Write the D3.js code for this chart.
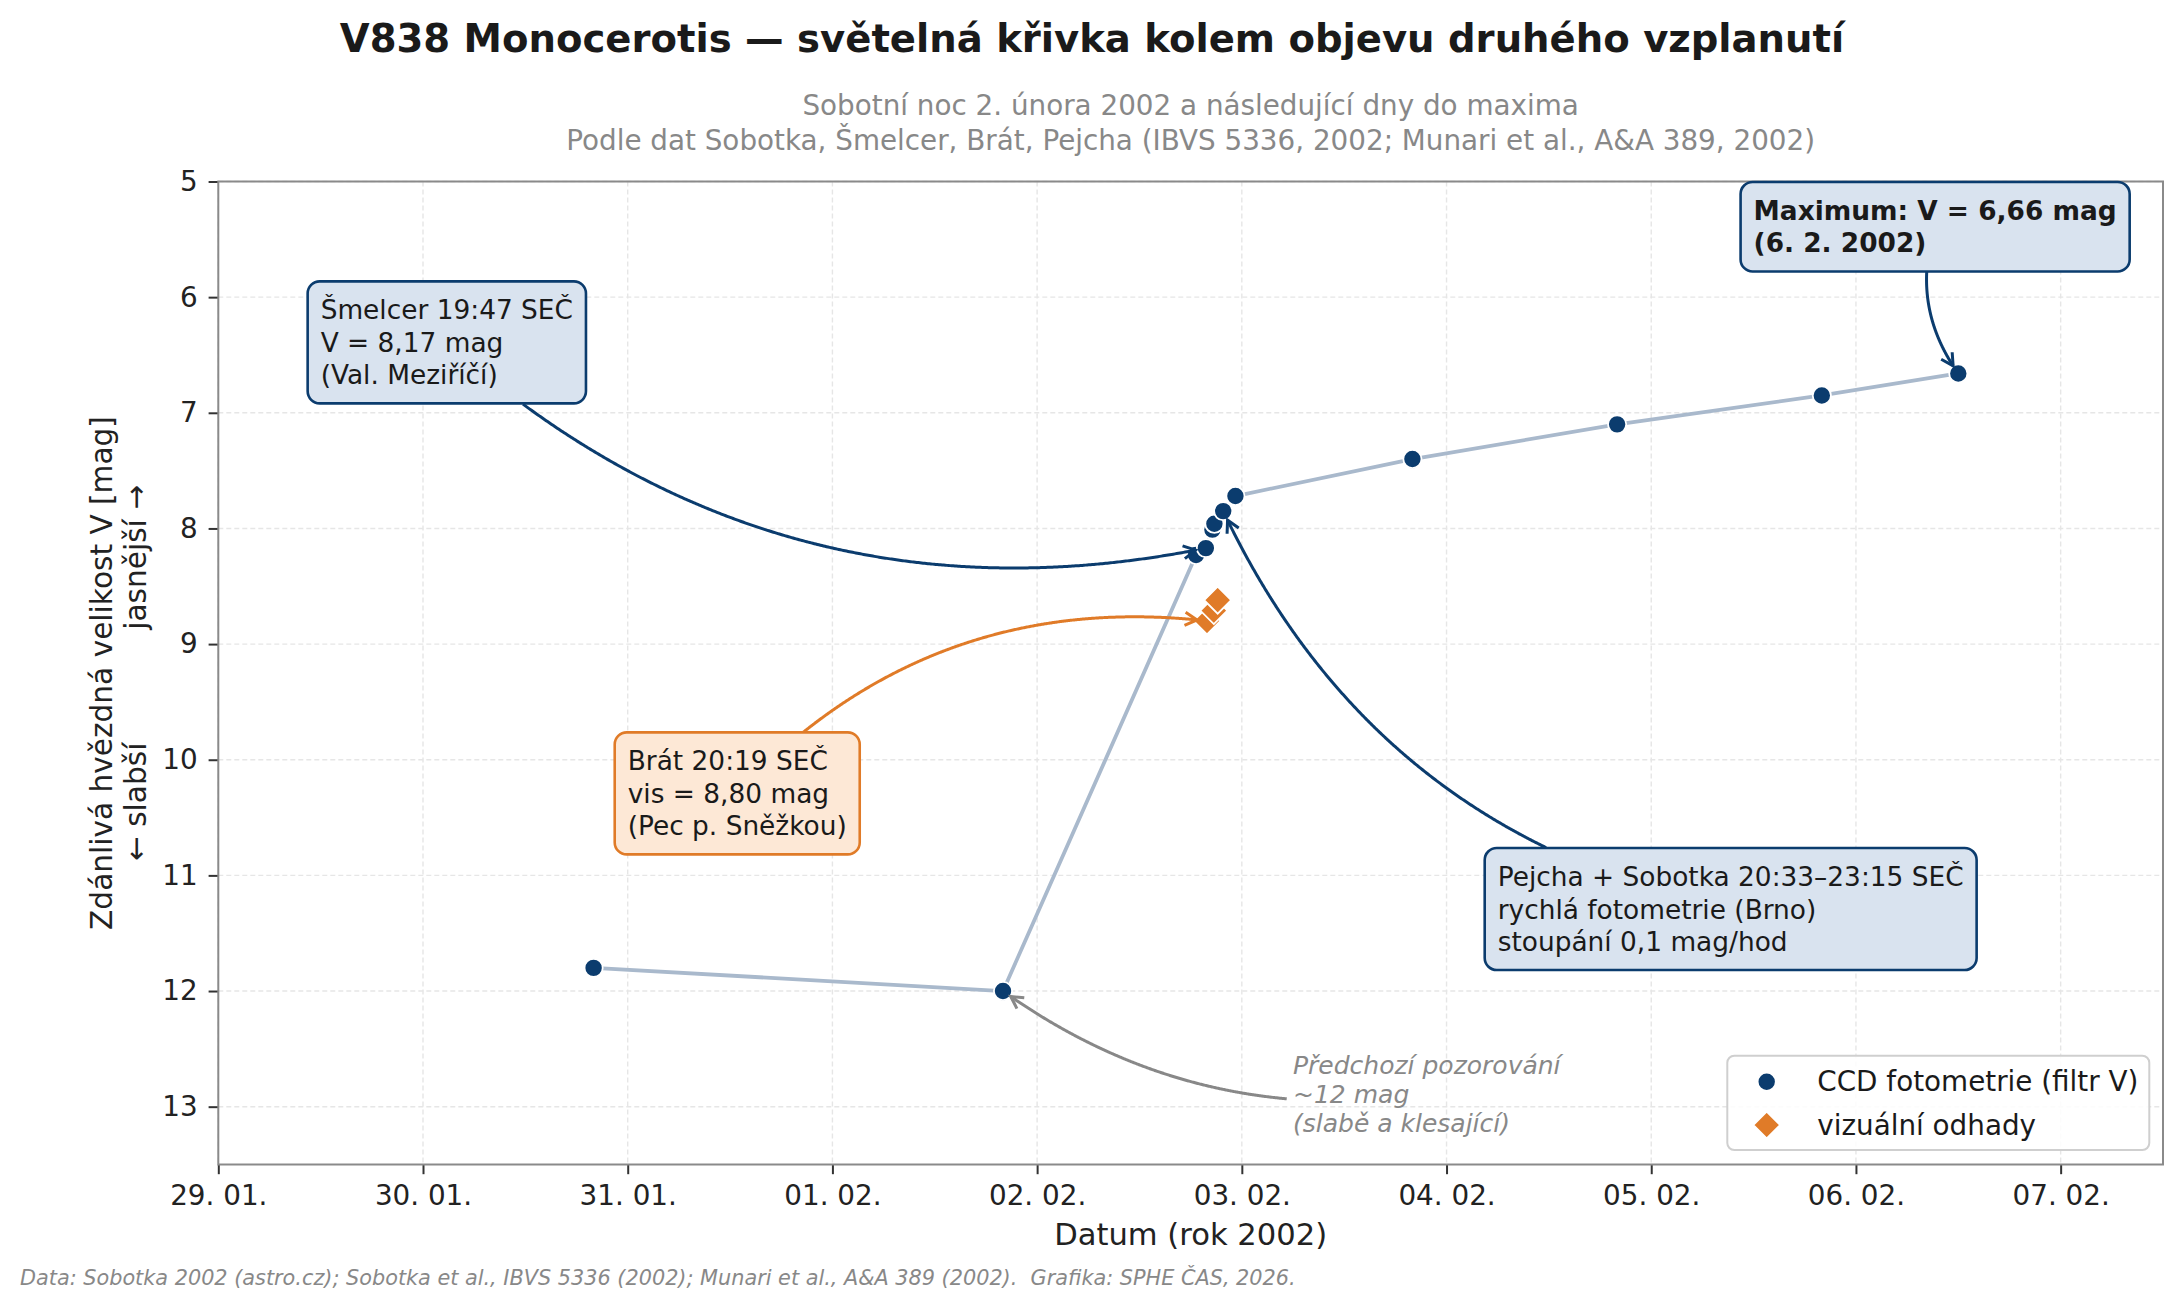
<!DOCTYPE html>
<html>
<head>
<meta charset="utf-8">
<script src="https://cdn.jsdelivr.net/npm/d3@7"></script>
<style>
  body { margin: 0; background: #fff; }
  text { font-family: "DejaVu Sans", sans-serif; }
</style>
</head>
<body>
<svg id="chart" width="2182" height="1311"></svg>
<script>
// ---- data (times in SEČ) ----
const ccdTimes = ["2002-01-30T20:00", "2002-02-01T20:00", "2002-02-02T18:38", "2002-02-02T19:47",
                  "2002-02-02T20:33", "2002-02-02T20:47", "2002-02-02T21:49", "2002-02-02T23:15",
                  "2002-02-03T20:00", "2002-02-04T20:00", "2002-02-05T20:00", "2002-02-06T12:00"];
const ccdMag = [11.80, 12.00, 8.23, 8.17, 8.01, 7.96, 7.85, 7.72, 7.40, 7.10, 6.85, 6.66];

const visTimes = ["2002-02-02T19:55", "2002-02-02T20:43", "2002-02-02T21:10"];
const visMag = [8.80, 8.71, 8.62];

const xStart = "2002-01-29T00:00", xEnd = "2002-02-07T12:00";
const magTicks = [5, 6, 7, 8, 9, 10, 11, 12, 13];

// annotations: text lines, anchor (left, vertical centre), target point, curvature
const notes = [
  { lines: ["Šmelcer 19:47 SEČ", "V = 8,17 mag", "(Val. Meziříčí)"], at: "2002-01-29T12:00", mag: 6.4,
    series: "ccd", idx: 3, rad: 0.25, kind: "blue" },
  { lines: ["Maximum: V = 6,66 mag", "(6. 2. 2002)"], at: "2002-02-05T12:00", mag: 5.4,
    series: "ccd", idx: 11, rad: 0.25, kind: "blue", bold: true },
  { lines: ["Brát 20:19 SEČ", "vis = 8,80 mag", "(Pec p. Sněžkou)"], at: "2002-01-31T00:00", mag: 10.3,
    series: "vis", idx: 0, rad: -0.25, kind: "orange" },
  { lines: ["Pejcha + Sobotka 20:33–23:15 SEČ", "rychlá fotometrie (Brno)", "stoupání 0,1 mag/hod"],
    at: "2002-02-04T06:00", mag: 11.3, series: "ccd", idx: 6, rad: -0.25, kind: "blue" },
  { lines: ["Předchozí pozorování", "~12 mag", "(slabě a klesající)"], at: "2002-02-03T06:00", mag: 12.9,
    series: "ccd", idx: 1, rad: -0.2, kind: "plain" }
];

const navy = "#0b3c6e", orange = "#e07b28", lineCol = "#a9b9cc";

const svg = d3.select("#chart");
const m = { left: 218.3, right: 2163, top: 181.5, bottom: 1164.5 };
const parse = d3.timeParse("%Y-%m-%dT%H:%M");

const ccd = ccdTimes.map((t, i) => ({ t: parse(t), m: ccdMag[i] }));
const vis = visTimes.map((t, i) => ({ t: parse(t), m: visMag[i] }));

const x = d3.scaleTime().domain([parse(xStart), parse(xEnd)]).range([m.left, m.right]);
const y = d3.scaleLinear().domain([5, 13.5]).range([m.top, m.bottom]);
const dayTicks = d3.timeDay.range(parse(xStart), d3.timeDay.offset(parse(xEnd), 1));

// grid
const grid = svg.append("g").attr("stroke", "#e6e6e6").attr("stroke-width", 1.4).attr("stroke-dasharray", "5,3");
grid.selectAll("line.v").data(dayTicks).join("line")
  .attr("x1", d => x(d)).attr("x2", d => x(d)).attr("y1", m.top).attr("y2", m.bottom);
grid.selectAll("line.h").data(magTicks).join("line")
  .attr("y1", d => y(d)).attr("y2", d => y(d)).attr("x1", m.left).attr("x2", m.right);

// axes
const gx = svg.append("g").attr("transform", `translate(0,${m.bottom})`)
  .call(d3.axisBottom(x).tickValues(dayTicks).tickFormat(d3.timeFormat("%d. %m.")).tickSize(9.7).tickPadding(11));
const gy = svg.append("g").attr("transform", `translate(${m.left},0)`)
  .call(d3.axisLeft(y).tickValues(magTicks).tickFormat(d3.format("d")).tickSize(9.7).tickPadding(11));
[gx, gy].forEach(g => {
  g.select(".domain").remove();
  g.attr("font-family", "DejaVu Sans").attr("font-size", 27.8).attr("color", "#333");
  g.selectAll("line").attr("stroke-width", 2);
  g.selectAll("text").attr("fill", "#222");
});

// frame
svg.append("rect").attr("x", m.left).attr("y", m.top)
  .attr("width", m.right - m.left).attr("height", m.bottom - m.top)
  .attr("fill", "none").attr("stroke", "#8a8a8a").attr("stroke-width", 2);

// axis labels
svg.append("text").attr("x", (m.left + m.right) / 2).attr("y", 1245)
  .attr("text-anchor", "middle").attr("font-size", 30.6).attr("fill", "#222").text("Datum (rok 2002)");
const ylab = svg.append("g").attr("transform", `translate(0,${(m.top + m.bottom) / 2})`);
ylab.append("text").attr("transform", "translate(102,0) rotate(-90)").attr("dy", "0.35em")
  .attr("text-anchor", "middle").attr("font-size", 29.6).attr("fill", "#222")
  .text("Zdánlivá hvězdná velikost V [mag]");
ylab.append("text").attr("transform", "translate(136,0) rotate(-90)").attr("dy", "0.35em")
  .attr("text-anchor", "middle").attr("font-size", 29.6).attr("fill", "#222")
  .style("white-space", "pre").text("← slabší            jasnější →");

// titles
svg.append("text").attr("x", 1092).attr("y", 52).attr("text-anchor", "middle")
  .attr("font-size", 38.6).attr("font-weight", "bold").attr("fill", "#1a1a1a")
  .text("V838 Monocerotis — světelná křivka kolem objevu druhého vzplanutí");
svg.append("text").attr("x", (m.left + m.right) / 2).attr("y", 115).attr("text-anchor", "middle")
  .attr("font-size", 27.8).attr("fill", "#888").text("Sobotní noc 2. února 2002 a následující dny do maxima");
svg.append("text").attr("x", (m.left + m.right) / 2).attr("y", 150).attr("text-anchor", "middle")
  .attr("font-size", 27.8).attr("fill", "#888")
  .text("Podle dat Sobotka, Šmelcer, Brát, Pejcha (IBVS 5336, 2002; Munari et al., A&A 389, 2002)");
svg.append("text").attr("x", 20).attr("y", 1285).attr("font-size", 20.8).attr("font-style", "italic").attr("fill", "#888")
  .style("white-space", "pre")
  .text("Data: Sobotka 2002 (astro.cz); Sobotka et al., IBVS 5336 (2002); Munari et al., A&A 389 (2002).  Grafika: SPHE ČAS, 2026.");

// light curve
svg.append("path").datum(ccd)
  .attr("d", d3.line().x(d => x(d.t)).y(d => y(d.m)))
  .attr("fill", "none").attr("stroke", lineCol).attr("stroke-width", 3.8).attr("stroke-linejoin", "round");

const diamond = s => `M0,${-s}L${s},0L0,${s}L${-s},0Z`;
svg.append("g").selectAll("path").data(vis).join("path")
  .attr("transform", d => `translate(${x(d.t)},${y(d.m)})`)
  .attr("d", diamond(13.5)).attr("fill", orange).attr("stroke", "#fff").attr("stroke-width", 1.8);
svg.append("g").selectAll("circle").data(ccd).join("circle")
  .attr("cx", d => x(d.t)).attr("cy", d => y(d.m)).attr("r", 9.1)
  .attr("fill", navy).attr("stroke", "#fff").attr("stroke-width", 1.8);

// annotations
function bez(p0, c, p2, t) {
  const u = 1 - t;
  return [u * u * p0[0] + 2 * u * t * c[0] + t * t * p2[0], u * u * p0[1] + 2 * u * t * c[1] + t * t * p2[1]];
}
const styles = {
  blue:   { fill: "#d9e3ef", stroke: navy, arrow: navy, text: "#1a1a1a", fs: 26.4, lh: 32.5 },
  orange: { fill: "#fde8d6", stroke: orange, arrow: orange, text: "#1a1a1a", fs: 26.4, lh: 32.5 },
  plain:  { fill: null, stroke: null, arrow: "#888", text: "#888", fs: 25, lh: 29 }
};
notes.forEach(n => {
  const st = styles[n.kind], fs = st.fs, lh = st.lh;
  const g = svg.append("g");
  const tx = x(parse(n.at));
  const y0 = y(n.mag) + 0.32 * fs - (n.lines.length - 1) * lh / 2;
  const txt = g.append("text").attr("font-size", fs).attr("fill", st.text)
    .attr("font-weight", n.bold ? "bold" : null).attr("font-style", n.kind === "plain" ? "italic" : null);
  n.lines.forEach((l, i) => txt.append("tspan").attr("x", tx).attr("y", y0 + i * lh).text(l));
  const bb = txt.node().getBBox();
  const pad = st.fill ? 13 : 5.6;
  const box = { x0: bb.x - pad, y0: bb.y - pad, x1: bb.x + bb.width + pad, y1: bb.y + bb.height + pad };
  if (st.fill) {
    g.insert("rect", "text").attr("x", box.x0).attr("y", box.y0)
      .attr("width", box.x1 - box.x0).attr("height", box.y1 - box.y0).attr("rx", 12)
      .attr("fill", st.fill).attr("stroke", st.stroke).attr("stroke-width", 2.6);
  }
  const src = n.series === "ccd" ? ccd[n.idx] : vis[n.idx];
  const p0 = [(box.x0 + box.x1) / 2, (box.y0 + box.y1) / 2];
  const p2 = [x(src.t), y(src.m)];
  const dx = p2[0] - p0[0], dy = p2[1] - p0[1];
  const c = [(p0[0] + p2[0]) / 2 - n.rad * dy, (p0[1] + p2[1]) / 2 + n.rad * dx];
  const ts = d3.range(0, 1.0001, 0.002);
  const inside = p => p[0] >= box.x0 && p[0] <= box.x1 && p[1] >= box.y0 && p[1] <= box.y1;
  const tStart = ts.find(t => !inside(bez(p0, c, p2, t)));
  const tEnd = ts.filter(t => Math.hypot(...bez(p0, c, p2, t).map((v, k) => v - p2[k])) >= 9).pop();
  const pts = ts.filter(t => t >= tStart && t <= tEnd).map(t => bez(p0, c, p2, t));
  svg.insert("path", () => g.node()).attr("d", d3.line()(pts))
    .attr("fill", "none").attr("stroke", st.arrow).attr("stroke-width", 3);
  const tip = pts[pts.length - 1], prev = bez(p0, c, p2, tEnd - 0.02);
  const ang = Math.atan2(tip[1] - prev[1], tip[0] - prev[0]);
  const hl = 12, hw = 6.5;
  const back = [tip[0] - hl * Math.cos(ang), tip[1] - hl * Math.sin(ang)];
  const px = -Math.sin(ang) * hw, py = Math.cos(ang) * hw;
  svg.insert("path", () => g.node())
    .attr("d", d3.line()([[back[0] + px, back[1] + py], tip, [back[0] - px, back[1] - py]]))
    .attr("fill", "none").attr("stroke", st.arrow).attr("stroke-width", 3).attr("stroke-linejoin", "miter");
});

// legend
const leg = svg.append("g");
leg.append("rect").attr("x", 1727.3).attr("y", 1055.7).attr("width", 422).attr("height", 94.3).attr("rx", 7)
  .attr("fill", "#fff").attr("fill-opacity", 0.85).attr("stroke", "#cfcfcf").attr("stroke-width", 2);
const legItems = [
  { label: "CCD fotometrie (filtr V)", shape: "circle" },
  { label: "vizuální odhady", shape: "diamond" }
];
legItems.forEach((it, i) => {
  const cy = 1081.7 + i * 43.3;
  if (it.shape === "circle") {
    leg.append("circle").attr("cx", 1766.7).attr("cy", cy).attr("r", 9.1).attr("fill", navy).attr("stroke", "#fff").attr("stroke-width", 1.8);
  } else {
    leg.append("path").attr("transform", `translate(1766.7,${cy})`).attr("d", diamond(13.5))
      .attr("fill", orange).attr("stroke", "#fff").attr("stroke-width", 1.8);
  }
  leg.append("text").attr("x", 1817.3).attr("y", cy + 9.5).attr("font-size", 27.8).attr("fill", "#1a1a1a").text(it.label);
});
</script>
</body>
</html>
